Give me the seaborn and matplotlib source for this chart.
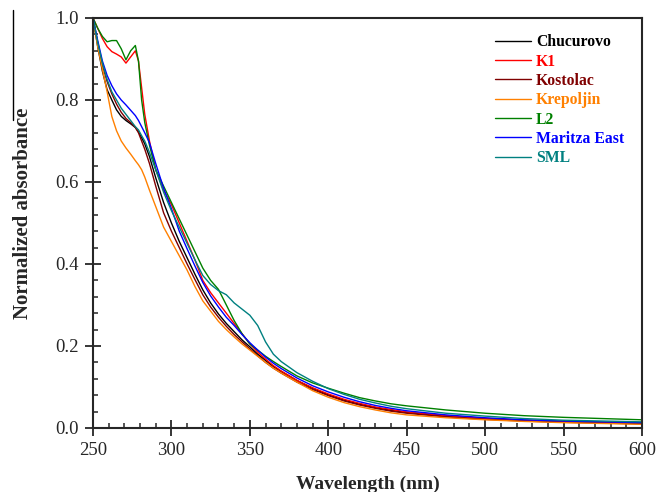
import matplotlib
matplotlib.use('Agg')
import matplotlib.pyplot as plt
from matplotlib.lines import Line2D
from matplotlib.ticker import MultipleLocator
import seaborn as sns
import pandas as pd

sns.set_style("ticks")
plt.rcParams['font.family'] = ['Liberation Serif', 'DejaVu Serif']

# wavelength grid (nm)
wavelength = [250, 253, 256, 259, 262, 265, 268, 271, 274, 277, 279, 281, 283, 286, 290,
              295, 300, 305, 310, 315, 320, 325, 330, 335, 340, 345, 350, 355, 360, 365,
              370, 380, 390, 400, 410, 420, 430, 440, 450, 475, 500, 525, 550, 575, 600]

chucurovo = [1.0, 0.93, 0.87, 0.825, 0.80, 0.776, 0.76, 0.75, 0.742, 0.733, 0.722, 0.708, 0.693,
             0.662, 0.61, 0.55, 0.50, 0.455, 0.415, 0.375, 0.337, 0.305, 0.278, 0.255, 0.235,
             0.215, 0.198, 0.18, 0.165, 0.15, 0.138, 0.116, 0.097, 0.081, 0.068, 0.058, 0.05,
             0.043, 0.038, 0.029, 0.023, 0.018, 0.015, 0.013, 0.011]
k1 = [1.0, 0.975, 0.95, 0.93, 0.918, 0.912, 0.905, 0.89, 0.905, 0.92, 0.895, 0.83, 0.765,
      0.70, 0.63, 0.58, 0.545, 0.50, 0.455, 0.41, 0.36, 0.33, 0.305, 0.28, 0.255,
      0.23, 0.205, 0.185, 0.168, 0.152, 0.139, 0.116, 0.098, 0.083, 0.07, 0.06, 0.051,
      0.045, 0.039, 0.03, 0.023, 0.019, 0.016, 0.013, 0.011]
kostolac = [1.0, 0.94, 0.885, 0.845, 0.815, 0.79, 0.77, 0.755, 0.745, 0.733, 0.72, 0.70, 0.68,
            0.645, 0.59, 0.525, 0.48, 0.44, 0.40, 0.362, 0.325, 0.295, 0.27, 0.248, 0.228,
            0.21, 0.193, 0.176, 0.16, 0.146, 0.134, 0.112, 0.094, 0.079, 0.066, 0.056, 0.048,
            0.041, 0.036, 0.027, 0.021, 0.017, 0.014, 0.012, 0.01]
krepoljin = [1.0, 0.93, 0.875, 0.82, 0.76, 0.725, 0.70, 0.683, 0.668, 0.652, 0.642, 0.63, 0.612,
             0.58, 0.54, 0.49, 0.455, 0.42, 0.385, 0.345, 0.31, 0.285, 0.26, 0.24, 0.222,
             0.205, 0.19, 0.175, 0.16, 0.146, 0.134, 0.112, 0.091, 0.075, 0.062, 0.052, 0.044,
             0.037, 0.032, 0.025, 0.02, 0.016, 0.013, 0.011, 0.009]
l2 = [1.0, 0.975, 0.955, 0.942, 0.945, 0.945, 0.925, 0.898, 0.92, 0.933, 0.895, 0.80, 0.745,
      0.69, 0.63, 0.59, 0.55, 0.51, 0.47, 0.43, 0.39, 0.36, 0.338, 0.30, 0.262,
      0.23, 0.205, 0.19, 0.175, 0.162, 0.15, 0.127, 0.11, 0.097, 0.085, 0.074, 0.066,
      0.059, 0.054, 0.044, 0.036, 0.03, 0.026, 0.023, 0.02]
maritza_east = [1.0, 0.945, 0.895, 0.86, 0.835, 0.815, 0.80, 0.788, 0.775, 0.762, 0.75, 0.735, 0.72,
                0.696, 0.645, 0.585, 0.535, 0.48, 0.437, 0.395, 0.355, 0.322, 0.295, 0.27, 0.25,
                0.228, 0.208, 0.19, 0.173, 0.158, 0.145, 0.122, 0.103, 0.088, 0.075, 0.064, 0.055,
                0.048, 0.042, 0.032, 0.025, 0.02, 0.017, 0.015, 0.013]
sml = [1.0, 0.94, 0.89, 0.85, 0.82, 0.80, 0.78, 0.765, 0.75, 0.735, 0.727, 0.713, 0.70,
       0.672, 0.63, 0.575, 0.53, 0.49, 0.45, 0.41, 0.372, 0.35, 0.335, 0.325, 0.305,
       0.29, 0.275, 0.25, 0.21, 0.18, 0.162, 0.135, 0.114, 0.096, 0.082, 0.07, 0.061,
       0.053, 0.047, 0.036, 0.029, 0.023, 0.019, 0.017, 0.015]

names = ['Chucurovo', 'K1', 'Kostolac', 'Krepoljin', 'L2', 'Maritza East', 'SML']
colors = ['#000000', '#ff0000', '#800000', '#ff8000', '#008000', '#0000ff', '#008080']
series = [chucurovo, k1, kostolac, krepoljin, l2, maritza_east, sml]

frames = [pd.DataFrame({'wavelength': wavelength, 'absorbance': vals, 'sample': name})
          for name, vals in zip(names, series)]
df = pd.concat(frames, ignore_index=True)

fig = plt.figure(figsize=(6.59, 4.92), dpi=100)
ax = fig.add_axes([93 / 659, 1 - 428 / 492, (642 - 93) / 659, (428 - 18) / 492])

sns.lineplot(data=df, x='wavelength', y='absorbance', hue='sample', hue_order=names,
             palette=dict(zip(names, colors)), linewidth=1.0, ax=ax, sort=False)

ax.set_xlim(250, 600)
ax.set_ylim(0, 1.0)
ax.xaxis.set_major_locator(MultipleLocator(50))
ax.xaxis.set_minor_locator(MultipleLocator(10))
ax.yaxis.set_major_locator(MultipleLocator(0.2))
ax.yaxis.set_minor_locator(MultipleLocator(0.04))
ax.yaxis.set_major_formatter(plt.FuncFormatter(lambda v, p: f'{v:.1f}'))
ax.tick_params(which='major', direction='inout', length=11, width=1.3, labelsize=13.5, pad=4.5)
ax.tick_params(which='minor', direction='in', length=3.6, width=1.1)
for s in ax.spines.values():
    s.set_linewidth(1.5)

ax.set_xlabel('Wavelength (nm)', fontsize=14, fontweight='bold')
ax.set_ylabel('Normalized absorbance', fontsize=15, fontweight='bold')
ax.xaxis.set_label_coords(0.5, -0.117)
ax.yaxis.set_label_coords(-0.109, 0.524)

leg = ax.legend(loc='upper right', bbox_to_anchor=(0.9845, 0.983), frameon=False,
                prop={'weight': 'bold', 'size': 11.3}, handlelength=2.25, handletextpad=0.33,
                labelspacing=0.21, borderaxespad=0.2)
for txt, c in zip(leg.get_texts(), colors):
    txt.set_color(c)

# stray crop line at the left edge of the original figure
fig.add_artist(Line2D([13 / 659, 13 / 659], [1 - 10 / 492, 1 - 120 / 492], color='black', lw=1))

fig.savefig('out.png', dpi=100)
